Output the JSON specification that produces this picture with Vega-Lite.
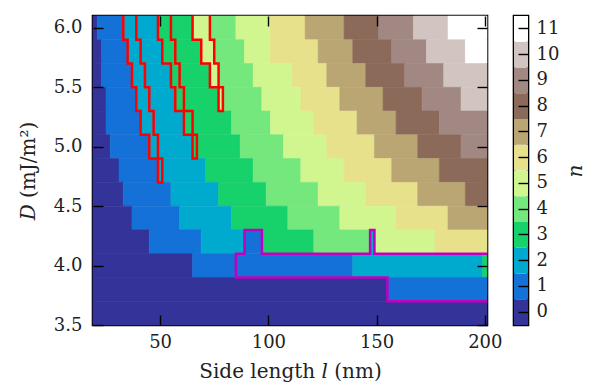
{
  "$schema": "https://vega.github.io/schema/vega-lite/v6.json",
  "padding": {"left": 17, "top": 9, "right": 0, "bottom": 0},
  "background": "white",
  "spacing": 8,
  "config": {
    "view": {"stroke": "#000", "strokeWidth": 2.6},
    "axis": {"grid": false, "domain": false, "tickColor": "#000", "tickWidth": 1.4, "tickSize": 10, "offset": -10, "labelFont": "DejaVu Serif", "labelFontSize": 18, "labelColor": "#222", "titleFont": "DejaVu Serif", "titleFontSize": 20, "titleFontWeight": "normal", "titleColor": "#222"}
  },
  "datasets": {
    "cells": [
      {"D0":5.9,"D1":6.1,"l0":19,"l1":21,"n":0},{"D0":5.9,"D1":6.1,"l0":21,"l1":33,"n":1},{"D0":5.9,"D1":6.1,"l0":33,"l1":49,"n":2},{"D0":5.9,"D1":6.1,"l0":49,"l1":65,"n":3},{"D0":5.9,"D1":6.1,"l0":65,"l1":73,"n":5},{"D0":5.9,"D1":6.1,"l0":73,"l1":85,"n":4},{"D0":5.9,"D1":6.1,"l0":85,"l1":101,"n":5},{"D0":5.9,"D1":6.1,"l0":101,"l1":117,"n":6},{"D0":5.9,"D1":6.1,"l0":117,"l1":135,"n":7},{"D0":5.9,"D1":6.1,"l0":135,"l1":151,"n":8},{"D0":5.9,"D1":6.1,"l0":151,"l1":167,"n":9},{"D0":5.9,"D1":6.1,"l0":167,"l1":183,"n":10},{"D0":5.9,"D1":6.1,"l0":183,"l1":201,"n":11},
      {"D0":5.7,"D1":5.9,"l0":19,"l1":23,"n":0},{"D0":5.7,"D1":5.9,"l0":23,"l1":35,"n":1},{"D0":5.7,"D1":5.9,"l0":35,"l1":51,"n":2},{"D0":5.7,"D1":5.9,"l0":51,"l1":69,"n":3},{"D0":5.7,"D1":5.9,"l0":69,"l1":75,"n":5},{"D0":5.7,"D1":5.9,"l0":75,"l1":89,"n":4},{"D0":5.7,"D1":5.9,"l0":89,"l1":101,"n":5},{"D0":5.7,"D1":5.9,"l0":101,"l1":123,"n":6},{"D0":5.7,"D1":5.9,"l0":123,"l1":139,"n":7},{"D0":5.7,"D1":5.9,"l0":139,"l1":157,"n":8},{"D0":5.7,"D1":5.9,"l0":157,"l1":173,"n":9},{"D0":5.7,"D1":5.9,"l0":173,"l1":191,"n":10},{"D0":5.7,"D1":5.9,"l0":191,"l1":201,"n":11},
      {"D0":5.5,"D1":5.7,"l0":19,"l1":23,"n":0},{"D0":5.5,"D1":5.7,"l0":23,"l1":37,"n":1},{"D0":5.5,"D1":5.7,"l0":37,"l1":55,"n":2},{"D0":5.5,"D1":5.7,"l0":55,"l1":73,"n":3},{"D0":5.5,"D1":5.7,"l0":73,"l1":77,"n":5},{"D0":5.5,"D1":5.7,"l0":77,"l1":93,"n":4},{"D0":5.5,"D1":5.7,"l0":93,"l1":111,"n":5},{"D0":5.5,"D1":5.7,"l0":111,"l1":127,"n":6},{"D0":5.5,"D1":5.7,"l0":127,"l1":145,"n":7},{"D0":5.5,"D1":5.7,"l0":145,"l1":163,"n":8},{"D0":5.5,"D1":5.7,"l0":163,"l1":181,"n":9},{"D0":5.5,"D1":5.7,"l0":181,"l1":201,"n":10},
      {"D0":5.3,"D1":5.5,"l0":19,"l1":25,"n":0},{"D0":5.3,"D1":5.5,"l0":25,"l1":39,"n":1},{"D0":5.3,"D1":5.5,"l0":39,"l1":57,"n":2},{"D0":5.3,"D1":5.5,"l0":57,"l1":77,"n":3},{"D0":5.3,"D1":5.5,"l0":77,"l1":79,"n":5},{"D0":5.3,"D1":5.5,"l0":79,"l1":97,"n":4},{"D0":5.3,"D1":5.5,"l0":97,"l1":115,"n":5},{"D0":5.3,"D1":5.5,"l0":115,"l1":133,"n":6},{"D0":5.3,"D1":5.5,"l0":133,"l1":153,"n":7},{"D0":5.3,"D1":5.5,"l0":153,"l1":171,"n":8},{"D0":5.3,"D1":5.5,"l0":171,"l1":189,"n":9},{"D0":5.3,"D1":5.5,"l0":189,"l1":201,"n":10},
      {"D0":5.1,"D1":5.3,"l0":19,"l1":25,"n":0},{"D0":5.1,"D1":5.3,"l0":25,"l1":41,"n":1},{"D0":5.1,"D1":5.3,"l0":41,"l1":61,"n":2},{"D0":5.1,"D1":5.3,"l0":61,"l1":83,"n":3},{"D0":5.1,"D1":5.3,"l0":83,"l1":101,"n":4},{"D0":5.1,"D1":5.3,"l0":101,"l1":121,"n":5},{"D0":5.1,"D1":5.3,"l0":121,"l1":141,"n":6},{"D0":5.1,"D1":5.3,"l0":141,"l1":159,"n":7},{"D0":5.1,"D1":5.3,"l0":159,"l1":179,"n":8},{"D0":5.1,"D1":5.3,"l0":179,"l1":201,"n":9},
      {"D0":4.9,"D1":5.1,"l0":19,"l1":27,"n":0},{"D0":4.9,"D1":5.1,"l0":27,"l1":45,"n":1},{"D0":4.9,"D1":5.1,"l0":45,"l1":65,"n":2},{"D0":4.9,"D1":5.1,"l0":65,"l1":87,"n":3},{"D0":4.9,"D1":5.1,"l0":87,"l1":107,"n":4},{"D0":4.9,"D1":5.1,"l0":107,"l1":127,"n":5},{"D0":4.9,"D1":5.1,"l0":127,"l1":149,"n":6},{"D0":4.9,"D1":5.1,"l0":149,"l1":169,"n":7},{"D0":4.9,"D1":5.1,"l0":169,"l1":189,"n":8},{"D0":4.9,"D1":5.1,"l0":189,"l1":201,"n":9},
      {"D0":4.7,"D1":4.9,"l0":19,"l1":31,"n":0},{"D0":4.7,"D1":4.9,"l0":31,"l1":49,"n":1},{"D0":4.7,"D1":4.9,"l0":49,"l1":71,"n":2},{"D0":4.7,"D1":4.9,"l0":71,"l1":93,"n":3},{"D0":4.7,"D1":4.9,"l0":93,"l1":115,"n":4},{"D0":4.7,"D1":4.9,"l0":115,"l1":135,"n":5},{"D0":4.7,"D1":4.9,"l0":135,"l1":157,"n":6},{"D0":4.7,"D1":4.9,"l0":157,"l1":179,"n":7},{"D0":4.7,"D1":4.9,"l0":179,"l1":201,"n":8},
      {"D0":4.5,"D1":4.7,"l0":19,"l1":33,"n":0},{"D0":4.5,"D1":4.7,"l0":33,"l1":55,"n":1},{"D0":4.5,"D1":4.7,"l0":55,"l1":77,"n":2},{"D0":4.5,"D1":4.7,"l0":77,"l1":99,"n":3},{"D0":4.5,"D1":4.7,"l0":99,"l1":123,"n":4},{"D0":4.5,"D1":4.7,"l0":123,"l1":145,"n":5},{"D0":4.5,"D1":4.7,"l0":145,"l1":169,"n":6},{"D0":4.5,"D1":4.7,"l0":169,"l1":191,"n":7},{"D0":4.5,"D1":4.7,"l0":191,"l1":201,"n":8},
      {"D0":4.3,"D1":4.5,"l0":19,"l1":37,"n":0},{"D0":4.3,"D1":4.5,"l0":37,"l1":59,"n":1},{"D0":4.3,"D1":4.5,"l0":59,"l1":83,"n":2},{"D0":4.3,"D1":4.5,"l0":83,"l1":109,"n":3},{"D0":4.3,"D1":4.5,"l0":109,"l1":133,"n":4},{"D0":4.3,"D1":4.5,"l0":133,"l1":159,"n":5},{"D0":4.3,"D1":4.5,"l0":159,"l1":183,"n":6},{"D0":4.3,"D1":4.5,"l0":183,"l1":201,"n":7},
      {"D0":4.1,"D1":4.3,"l0":19,"l1":45,"n":0},{"D0":4.1,"D1":4.3,"l0":45,"l1":69,"n":1},{"D0":4.1,"D1":4.3,"l0":69,"l1":89,"n":2},{"D0":4.1,"D1":4.3,"l0":89,"l1":97,"n":1},{"D0":4.1,"D1":4.3,"l0":97,"l1":121,"n":3},{"D0":4.1,"D1":4.3,"l0":121,"l1":147,"n":4},{"D0":4.1,"D1":4.3,"l0":147,"l1":149,"n":2},{"D0":4.1,"D1":4.3,"l0":149,"l1":177,"n":5},{"D0":4.1,"D1":4.3,"l0":177,"l1":201,"n":6},
      {"D0":3.9,"D1":4.1,"l0":19,"l1":65,"n":0},{"D0":3.9,"D1":4.1,"l0":65,"l1":139,"n":1},{"D0":3.9,"D1":4.1,"l0":139,"l1":199,"n":2},{"D0":3.9,"D1":4.1,"l0":199,"l1":201,"n":3},
      {"D0":3.7,"D1":3.9,"l0":19,"l1":155,"n":0},{"D0":3.7,"D1":3.9,"l0":155,"l1":201,"n":1},
      {"D0":3.5,"D1":3.7,"l0":19,"l1":201,"n":0}
    ],
    "red": [
      {"g":"s1","i":0,"l":33,"D":6.1},{"g":"s1","i":1,"l":33,"D":5.9},{"g":"s1","i":2,"l":35,"D":5.9},{"g":"s1","i":3,"l":35,"D":5.7},{"g":"s1","i":4,"l":37,"D":5.7},{"g":"s1","i":5,"l":37,"D":5.5},{"g":"s1","i":6,"l":39,"D":5.5},{"g":"s1","i":7,"l":39,"D":5.3},{"g":"s1","i":8,"l":41,"D":5.3},{"g":"s1","i":9,"l":41,"D":5.1},{"g":"s1","i":10,"l":45,"D":5.1},{"g":"s1","i":11,"l":45,"D":4.9},{"g":"s1","i":12,"l":49,"D":4.9},{"g":"s1","i":13,"l":49,"D":4.7},{"g":"s1","i":14,"l":51,"D":4.7},{"g":"s1","i":15,"l":51,"D":4.9},{"g":"s1","i":16,"l":49,"D":4.9},{"g":"s1","i":17,"l":49,"D":5.1},{"g":"s1","i":18,"l":47,"D":5.1},{"g":"s1","i":19,"l":47,"D":5.3},{"g":"s1","i":20,"l":45,"D":5.3},{"g":"s1","i":21,"l":45,"D":5.5},{"g":"s1","i":22,"l":43,"D":5.5},{"g":"s1","i":23,"l":43,"D":5.7},{"g":"s1","i":24,"l":41,"D":5.7},{"g":"s1","i":25,"l":41,"D":5.9},{"g":"s1","i":26,"l":39,"D":5.9},{"g":"s1","i":27,"l":39,"D":6.1},
      {"g":"s2","i":0,"l":49,"D":6.1},{"g":"s2","i":1,"l":49,"D":5.9},{"g":"s2","i":2,"l":51,"D":5.9},{"g":"s2","i":3,"l":51,"D":5.7},{"g":"s2","i":4,"l":55,"D":5.7},{"g":"s2","i":5,"l":55,"D":5.5},{"g":"s2","i":6,"l":57,"D":5.5},{"g":"s2","i":7,"l":57,"D":5.3},{"g":"s2","i":8,"l":61,"D":5.3},{"g":"s2","i":9,"l":61,"D":5.1},{"g":"s2","i":10,"l":65,"D":5.1},{"g":"s2","i":11,"l":65,"D":4.9},{"g":"s2","i":12,"l":67,"D":4.9},{"g":"s2","i":13,"l":67,"D":5.1},{"g":"s2","i":14,"l":65,"D":5.1},{"g":"s2","i":15,"l":65,"D":5.3},{"g":"s2","i":16,"l":61,"D":5.3},{"g":"s2","i":17,"l":61,"D":5.5},{"g":"s2","i":18,"l":59,"D":5.5},{"g":"s2","i":19,"l":59,"D":5.7},{"g":"s2","i":20,"l":57,"D":5.7},{"g":"s2","i":21,"l":57,"D":5.9},{"g":"s2","i":22,"l":55,"D":5.9},{"g":"s2","i":23,"l":55,"D":6.1},
      {"g":"s3","i":0,"l":65,"D":6.1},{"g":"s3","i":1,"l":65,"D":5.9},{"g":"s3","i":2,"l":69,"D":5.9},{"g":"s3","i":3,"l":69,"D":5.7},{"g":"s3","i":4,"l":73,"D":5.7},{"g":"s3","i":5,"l":73,"D":5.5},{"g":"s3","i":6,"l":77,"D":5.5},{"g":"s3","i":7,"l":77,"D":5.3},{"g":"s3","i":8,"l":79,"D":5.3},{"g":"s3","i":9,"l":79,"D":5.5},{"g":"s3","i":10,"l":77,"D":5.5},{"g":"s3","i":11,"l":77,"D":5.7},{"g":"s3","i":12,"l":75,"D":5.7},{"g":"s3","i":13,"l":75,"D":5.9},{"g":"s3","i":14,"l":73,"D":5.9},{"g":"s3","i":15,"l":73,"D":6.1}
    ],
    "mag": [
      {"i":0,"l":201,"D":3.7},{"i":1,"l":155,"D":3.7},{"i":2,"l":155,"D":3.9},{"i":3,"l":85,"D":3.9},{"i":4,"l":85,"D":4.1},{"i":5,"l":89,"D":4.1},{"i":6,"l":89,"D":4.3},{"i":7,"l":97,"D":4.3},{"i":8,"l":97,"D":4.1},{"i":9,"l":147,"D":4.1},{"i":10,"l":147,"D":4.3},{"i":11,"l":149,"D":4.3},{"i":12,"l":149,"D":4.1},{"i":13,"l":201,"D":4.1}
    ],
    "bar": [{"n":0},{"n":1},{"n":2},{"n":3},{"n":4},{"n":5},{"n":6},{"n":7},{"n":8},{"n":9},{"n":10},{"n":11}]
  },
  "hconcat": [
    {
      "width": 394,
      "height": 309,
      "layer": [
        {
          "data": {"name": "cells"},
          "mark": {"type": "rect", "strokeWidth": 0.6},
          "encoding": {
            "x": {"field": "l0", "type": "quantitative", "scale": {"domain": [19, 201], "nice": false, "zero": false},
                  "axis": {"values": [50, 100, 150, 200], "labelPadding": 8, "labelFlush": false, "title": "Side length 𝑙 (nm)", "titlePadding": 10, "zindex": 2}},
            "x2": {"field": "l1"},
            "y": {"field": "D0", "type": "quantitative", "scale": {"domain": [3.5, 6.1], "nice": false, "zero": false},
                  "axis": {"values": [3.5, 4, 4.5, 5, 5.5, 6], "format": ".1f", "labelPadding": 11, "title": "𝐷 (mJ/m²)", "titlePadding": 15, "zindex": 2}},
            "y2": {"field": "D1"},
            "color": {"field": "n", "type": "ordinal", "scale": {"domain": [0,1,2,3,4,5,6,7,8,9,10,11], "range": ["#333399","#1471d7","#00a9ce","#17d16b","#74e87d","#d1f68f","#e8e18c","#b9a673","#8b6a5a","#a28883","#d1c4c1","#ffffff"]}, "legend": null},
            "stroke": {"field": "n", "type": "ordinal", "scale": {"domain": [0,1,2,3,4,5,6,7,8,9,10,11], "range": ["#333399","#1471d7","#00a9ce","#17d16b","#74e87d","#d1f68f","#e8e18c","#b9a673","#8b6a5a","#a28883","#d1c4c1","#ffffff"]}, "legend": null}
          }
        },
        {
          "data": {"name": "red"},
          "mark": {"type": "line", "color": "#ff0000", "strokeWidth": 2.5, "strokeJoin": "miter"},
          "encoding": {
            "x": {"field": "l", "type": "quantitative", "axis": {"orient": "top", "values": [50, 100, 150, 200], "labels": false, "title": null, "zindex": 2}},
            "y": {"field": "D", "type": "quantitative", "axis": {"orient": "right", "values": [3.5, 4, 4.5, 5, 5.5, 6], "labels": false, "title": null, "zindex": 2}},
            "detail": {"field": "g"},
            "order": {"field": "i"}
          }
        },
        {
          "data": {"name": "mag"},
          "mark": {"type": "line", "color": "#bf00bf", "strokeWidth": 2.5, "strokeJoin": "miter"},
          "encoding": {
            "x": {"field": "l", "type": "quantitative", "axis": null},
            "y": {"field": "D", "type": "quantitative", "axis": null},
            "order": {"field": "i"}
          }
        }
      ],
      "resolve": {"axis": {"x": "independent", "y": "independent"}}
    },
    {
      "width": 14,
      "height": 309,
      "data": {"name": "bar"},
      "mark": {"type": "rect"},
      "encoding": {
        "y": {"field": "n", "type": "ordinal", "sort": "descending", "scale": {"paddingInner": 0, "paddingOuter": 0},
              "axis": {"orient": "right", "labelPadding": 8, "title": "n", "titleFontStyle": "italic", "titleAngle": -90, "titlePadding": 27, "titleFontSize": 20, "zindex": 2}},
        "color": {"field": "n", "type": "ordinal", "scale": {"domain": [0,1,2,3,4,5,6,7,8,9,10,11], "range": ["#333399","#1471d7","#00a9ce","#17d16b","#74e87d","#d1f68f","#e8e18c","#b9a673","#8b6a5a","#a28883","#d1c4c1","#ffffff"]}, "legend": null}
      }
    }
  ]
}
